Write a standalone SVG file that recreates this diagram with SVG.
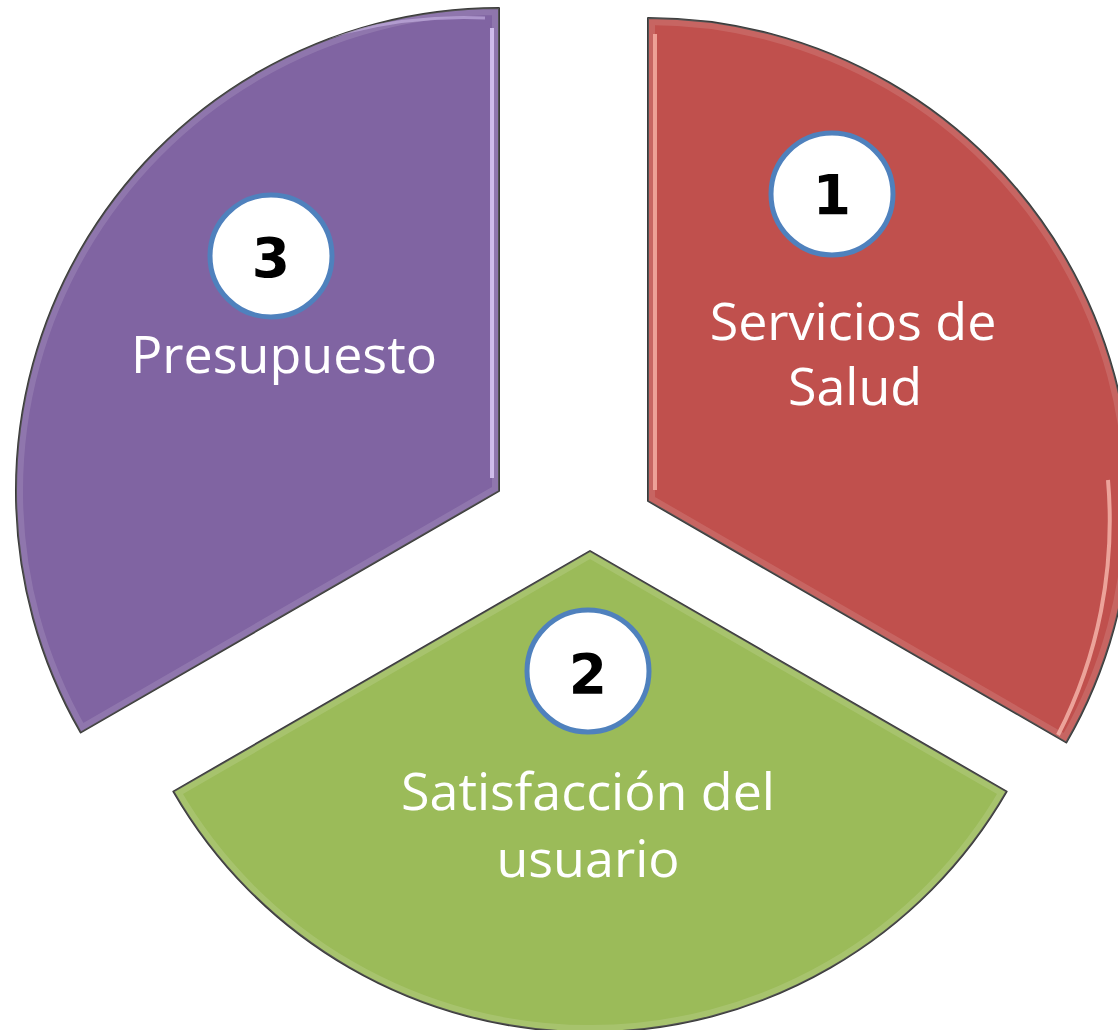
<svg xmlns="http://www.w3.org/2000/svg" width="1118" height="1030" viewBox="0 0 1118 1030">
<style>
.sector{stroke:#3a3a3a;stroke-width:2;stroke-linejoin:round}
.rim{fill:none;stroke:#ffffff;stroke-width:14;stroke-opacity:0.12}
.badge{fill:#ffffff;stroke:#4F81BD;stroke-width:5}
.num{font-family:"DejaVu Sans",sans-serif;font-weight:700;font-size:55px;fill:#000000;text-anchor:middle}
.lbl{font-family:"Open Sans","Noto Sans",sans-serif;font-size:52px;fill:#ffffff;text-anchor:middle}
</style>
<defs>
<clipPath id="cp3"><path d="M499,491 L499,8 A483,483 0 0 0 80.7,732.5 Z"/></clipPath>
<clipPath id="cp1"><path d="M648,501 L648,18 A483,483 0 0 1 1066.3,742.5 Z"/></clipPath>
<clipPath id="cp2"><path d="M590,551 L1006.6,791.5 A481,481 0 0 1 173.4,791.5 Z"/></clipPath>
</defs>
<g id="node-presupuesto">
<path class="sector" fill="#8064A2" d="M499,491 L499,8 A483,483 0 0 0 80.7,732.5 Z"/>
<g clip-path="url(#cp3)">
<path class="rim" d="M499,491 L499,8 A483,483 0 0 0 80.7,732.5 Z"/>
<line x1="492" y1="28" x2="492" y2="478" stroke="#DCCBF7" stroke-width="4" opacity="0.85"/>
<path d="M485,18 A475,475 0 0 0 30,300" fill="none" stroke="#C9B6E6" stroke-width="3" opacity="0.6"/>
</g>
<circle class="badge" cx="271" cy="256" r="61"/>
<text class="num" x="271" y="277">3</text>
<text class="lbl" x="284" y="373">Presupuesto</text>
</g>
<g id="node-servicios">
<path class="sector" fill="#C0504D" d="M648,501 L648,18 A483,483 0 0 1 1066.3,742.5 Z"/>
<g clip-path="url(#cp1)">
<path class="rim" d="M648,501 L648,18 A483,483 0 0 1 1066.3,742.5 Z"/>
<line x1="655" y1="34" x2="655" y2="490" stroke="#F2A89E" stroke-width="4" opacity="0.9"/>
<path d="M1108,480 A470,470 0 0 1 1058,735" fill="none" stroke="#F6B8AE" stroke-width="4" opacity="0.8"/>
</g>
<circle class="badge" cx="832" cy="194" r="61"/>
<text class="num" x="832" y="214">1</text>
<text class="lbl" x="853" y="340">Servicios de</text>
<text class="lbl" x="855" y="405">Salud</text>
</g>
<g id="node-satisfaccion">
<path class="sector" fill="#9BBB59" d="M590,551 L1006.6,791.5 A481,481 0 0 1 173.4,791.5 Z"/>
<g clip-path="url(#cp2)">
<path class="rim" d="M590,551 L1006.6,791.5 A481,481 0 0 1 173.4,791.5 Z"/>
</g>
<circle class="badge" cx="588" cy="671" r="61"/>
<text class="num" x="588" y="693">2</text>
<text class="lbl" x="588" y="810">Satisfacción del</text>
<text class="lbl" x="588" y="877">usuario</text>
</g>
<g id="connectors"/>
</svg>
